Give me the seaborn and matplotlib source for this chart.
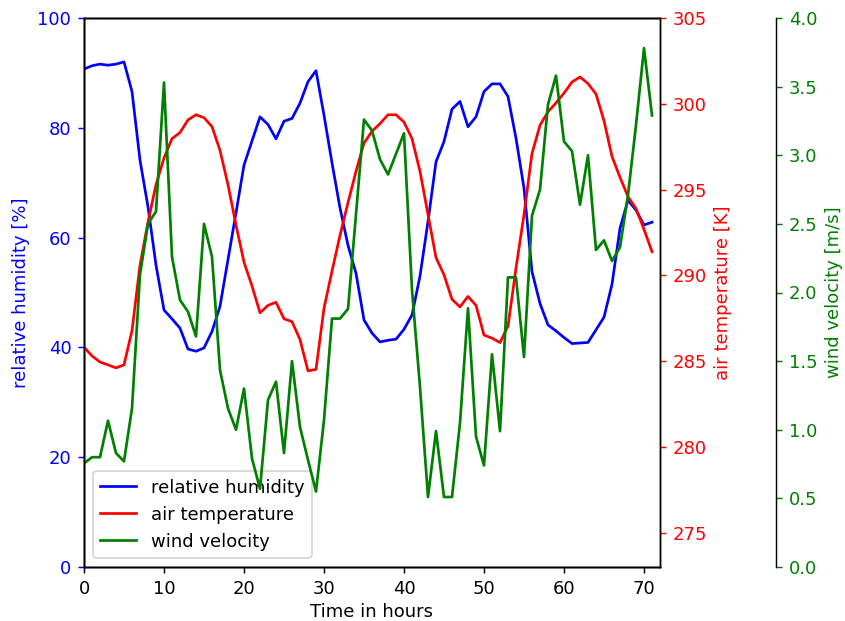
import matplotlib
matplotlib.use("Agg")
import matplotlib.pyplot as plt
import seaborn as sns

hours = list(range(72))

humidity = [90.7, 91.3, 91.6, 91.4, 91.6, 92.0, 86.6, 74.1, 65.6, 55.0,
            46.8, 45.2, 43.5, 39.7, 39.3, 39.9, 42.9, 47.5, 56.0, 64.5,
            73.2, 77.6, 82.0, 80.6, 78.0, 81.2, 81.7, 84.5, 88.4, 90.4,
            82.3, 73.6, 65.4, 58.6, 53.5, 45.0, 42.6, 41.0, 41.3, 41.5,
            43.3, 45.9, 53.0, 62.9, 73.8, 77.5, 83.4, 84.8, 80.2, 82.0,
            86.6, 88.0, 88.0, 85.7, 78.1, 69.0, 53.8, 48.0, 44.1, 43.0,
            41.8, 40.7, 40.8, 40.9, 43.2, 45.5, 51.5, 61.7, 66.8, 65.0,
            62.3, 62.8]

temperature = [285.82, 285.30, 284.95, 284.78, 284.61, 284.78, 286.78, 290.59, 293.11, 295.28,
               296.84, 297.97, 298.32, 299.06, 299.36, 299.19, 298.67, 297.28, 295.28, 292.94,
               290.77, 289.38, 287.82, 288.25, 288.43, 287.47, 287.30, 286.26, 284.43, 284.52,
               288.08, 290.25, 292.33, 294.24, 296.06, 297.71, 298.40, 298.84, 299.36, 299.36,
               298.93, 297.97, 296.06, 293.55, 291.03, 290.03, 288.60, 288.16, 288.77, 288.25,
               286.52, 286.34, 286.08, 287.04, 290.42, 293.55, 297.10, 298.75, 299.53, 300.05,
               300.62, 301.27, 301.56, 301.18, 300.57, 299.01, 296.93, 295.71, 294.59, 293.89,
               292.68, 291.38]

wind = [0.755, 0.80, 0.80, 1.066, 0.83, 0.77, 1.156, 2.13, 2.50, 2.59,
        3.53, 2.26, 1.945, 1.86, 1.68, 2.50, 2.26, 1.435, 1.156, 1.0,
        1.30, 0.79, 0.57, 1.217, 1.35, 0.83, 1.50, 1.02, 0.78, 0.55,
        1.07, 1.81, 1.81, 1.88, 2.57, 3.26, 3.18, 2.97, 2.86, 3.01,
        3.16, 2.02, 1.31, 0.51, 0.99, 0.51, 0.51, 1.05, 1.885, 0.95,
        0.74, 1.55, 0.99, 2.11, 2.11, 1.53, 2.56, 2.75, 3.37, 3.58,
        3.10, 3.03, 2.64, 3.0, 2.31, 2.38, 2.23, 2.33, 2.71, 3.22,
        3.78, 3.29]

series_labels = ["relative humidity", "air temperature", "wind velocity"]
x_ticks = [0, 10, 20, 30, 40, 50, 60, 70]

fig, ax = plt.subplots(figsize=(6.5, 621 / 130), dpi=130)
fig.subplots_adjust(left=84 / 845, right=660 / 845, bottom=54 / 621, top=603 / 621)
ax2 = ax.twinx()
ax3 = ax.twinx()
ax3.spines["right"].set_position(("axes", 692 / 576))

sns.lineplot(x=hours, y=humidity, ax=ax, color="b", legend=False)
sns.lineplot(x=hours, y=temperature, ax=ax2, color="r", legend=False)
sns.lineplot(x=hours, y=wind, ax=ax3, color="g", legend=False)

ax.set_xlim(0, 72)
ax.set_xticks(x_ticks)
ax.set_ylim(0, 100)
ax2.set_ylim(273.0, 305)
ax3.set_ylim(0, 4)

ax.set_xlabel("Time in hours", labelpad=3)
ax.set_ylabel("relative humidity [%]", color="b")
ax2.set_ylabel("air temperature [K]", color="r")
ax3.set_ylabel("wind velocity [m/s]", color="g")

ax.tick_params(axis="y", colors="b")
ax2.tick_params(axis="y", colors="r")
ax3.tick_params(axis="y", colors="g")

handles = [ax.lines[0], ax2.lines[0], ax3.lines[0]]
ax.legend(handles, series_labels, loc="lower left")

fig.savefig("out.png", dpi=130)
